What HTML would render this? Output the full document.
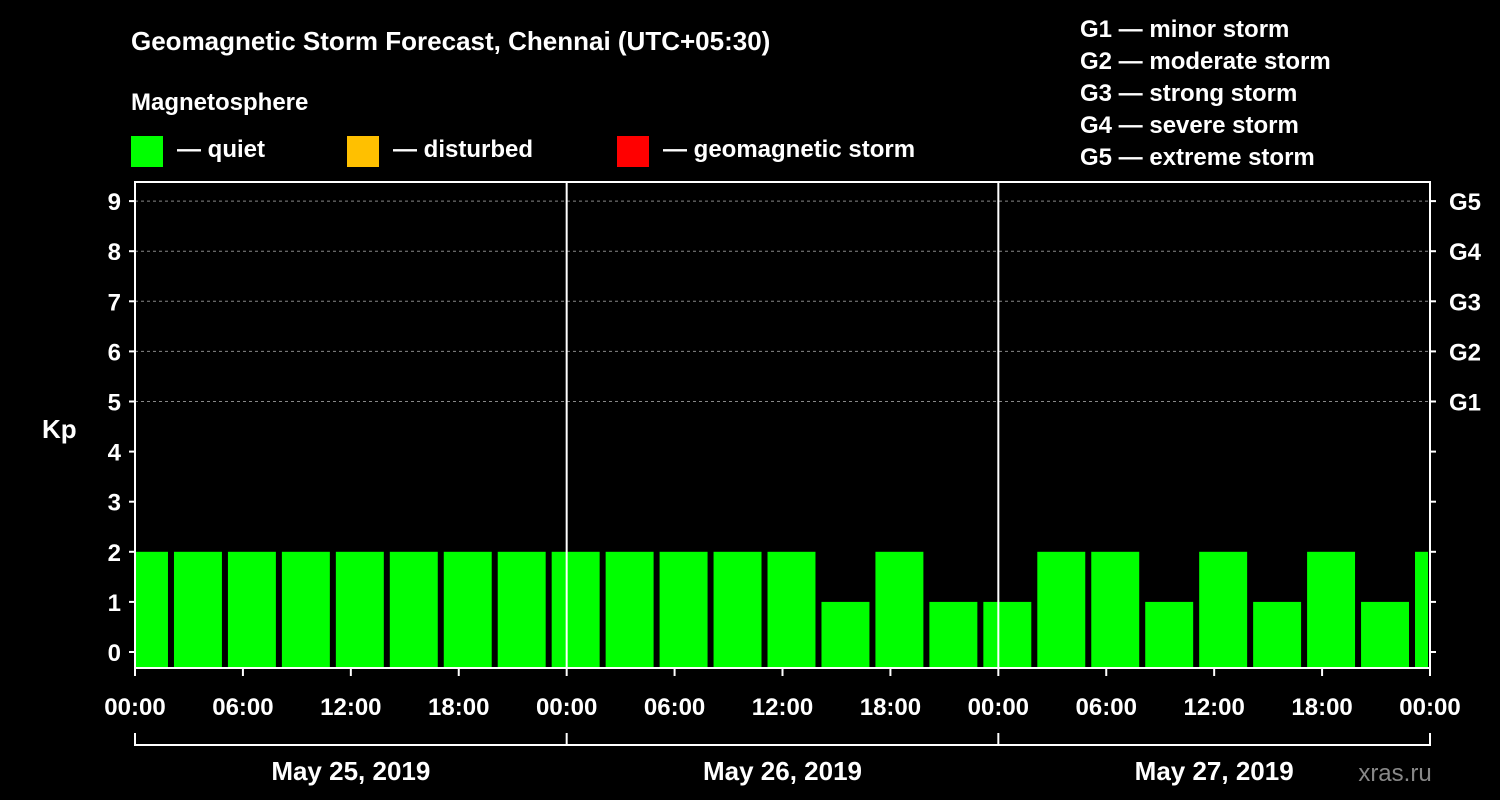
<!DOCTYPE html>
<html><head><meta charset="utf-8"><style>
body{margin:0;background:#000;}
svg{display:block;font-family:"Liberation Sans",Arial,sans-serif;font-weight:bold;}
</style></head><body>
<svg id="chart" width="1500" height="800" viewBox="0 0 1500 800">
<rect width="1500" height="800" fill="#000"/>
<text x="131" y="50" font-size="26" fill="#fff">Geomagnetic Storm Forecast, Chennai (UTC+05:30)</text>
<text x="131" y="110" font-size="24" fill="#fff">Magnetosphere</text>
<g><rect x="131" y="136" width="32" height="31" fill="#00ff00"/><text x="177" y="157" font-size="24" fill="#fff">— quiet</text></g>
<g><rect x="347" y="136" width="32" height="31" fill="#ffc000"/><text x="393" y="157" font-size="24" fill="#fff">— disturbed</text></g>
<g><rect x="617" y="136" width="32" height="31" fill="#ff0000"/><text x="663" y="157" font-size="24" fill="#fff">— geomagnetic storm</text></g>
<g font-size="24" fill="#fff">
<text x="1080" y="37">G1 — minor storm</text>
<text x="1080" y="69">G2 — moderate storm</text>
<text x="1080" y="101">G3 — strong storm</text>
<text x="1080" y="133">G4 — severe storm</text>
<text x="1080" y="165">G5 — extreme storm</text>
</g>
<text x="42" y="438" font-size="26" fill="#fff">Kp</text>
<g id="grid"></g><g id="bars"></g><g id="axes"></g>
<text x="1395" y="781" font-size="24" fill="#888" font-weight="normal" text-anchor="middle">xras.ru</text>
</svg>
<script>
const kpValues=[2,2,2,2,2,2,2,2,2,2,2,2,2,1,2,1,1,2,2,1,2,1,2,1,2];
const barStartHours=-1;
const yTicks=[0,1,2,3,4,5,6,7,8,9];
const gLabels=["G1","G2","G3","G4","G5"];
const xTickLabels=["00:00","06:00","12:00","18:00","00:00","06:00","12:00","18:00","00:00","06:00","12:00","18:00","00:00"];
const dateLabels=["May 25, 2019","May 26, 2019","May 27, 2019"];
const NS="http://www.w3.org/2000/svg";
const X0=135,X1=1430,TOTAL=72,YB=668,YT=182;
const x=h=>X0+(X1-X0)*h/TOTAL;
const y=v=>652-50.1*v;
function mk(p,tag,at){const e=document.createElementNS(NS,tag);for(const k in at)e.setAttribute(k,at[k]);p.appendChild(e);return e;}
const grid=document.getElementById('grid'),bars=document.getElementById('bars'),axes=document.getElementById('axes');
yTicks.forEach(v=>{if(v>=5){const l=mk(grid,'line',{x1:X0,x2:X1,y1:y(v),y2:y(v),stroke:'#888','stroke-dasharray':'3,3'});

}});
kpValues.forEach((v,i)=>{const h0=barStartHours+3*i;let a=x(h0)+3,b=x(h0+3)-3;a=Math.max(a,X0);b=Math.min(b,X1-2);
const c=v>=5?'#ff0000':(v>=4?'#ffc000':'#00ff00');
const r=mk(bars,'rect',{x:a,y:y(v),width:b-a,height:YB-y(v),fill:c});

});
mk(axes,'rect',{x:X0,y:YT,width:X1-X0,height:YB-YT,fill:'none',stroke:'#fff','stroke-width':2});
[24,48].forEach(h=>{const l=mk(axes,'line',{x1:x(h),x2:x(h),y1:YT,y2:YB,stroke:'#fff','stroke-width':2});

});
yTicks.forEach(v=>{mk(axes,'line',{x1:X0-6,x2:X0,y1:y(v),y2:y(v),stroke:'#fff','stroke-width':2});
mk(axes,'line',{x1:X1,x2:X1+6,y1:y(v),y2:y(v),stroke:'#fff','stroke-width':2});
const t=mk(axes,'text',{x:X0-14,y:y(v)+9,'font-size':24,fill:'#fff','text-anchor':'end'});t.textContent=v;

});
gLabels.forEach((g,i)=>{const t=mk(axes,'text',{x:1449,y:y(5+i)+9,'font-size':24,fill:'#fff'});t.textContent=g;

});
xTickLabels.forEach((s,i)=>{const h=i*6;mk(axes,'line',{x1:x(h),x2:x(h),y1:YB,y2:YB+8,stroke:'#fff','stroke-width':2});
const t=mk(axes,'text',{x:x(h),y:715,'font-size':24,fill:'#fff','text-anchor':'middle'});t.textContent=s;

});
mk(axes,'line',{x1:X0,x2:X1,y1:745,y2:745,stroke:'#fff','stroke-width':2});
[0,24,48,72].forEach(h=>mk(axes,'line',{x1:x(h),x2:x(h),y1:733,y2:746,stroke:'#fff','stroke-width':2}));
dateLabels.forEach((s,i)=>{const t=mk(axes,'text',{x:x(24*i+12),y:780,'font-size':26,fill:'#fff','text-anchor':'middle'});t.textContent=s;

});
</script>
</body></html>
